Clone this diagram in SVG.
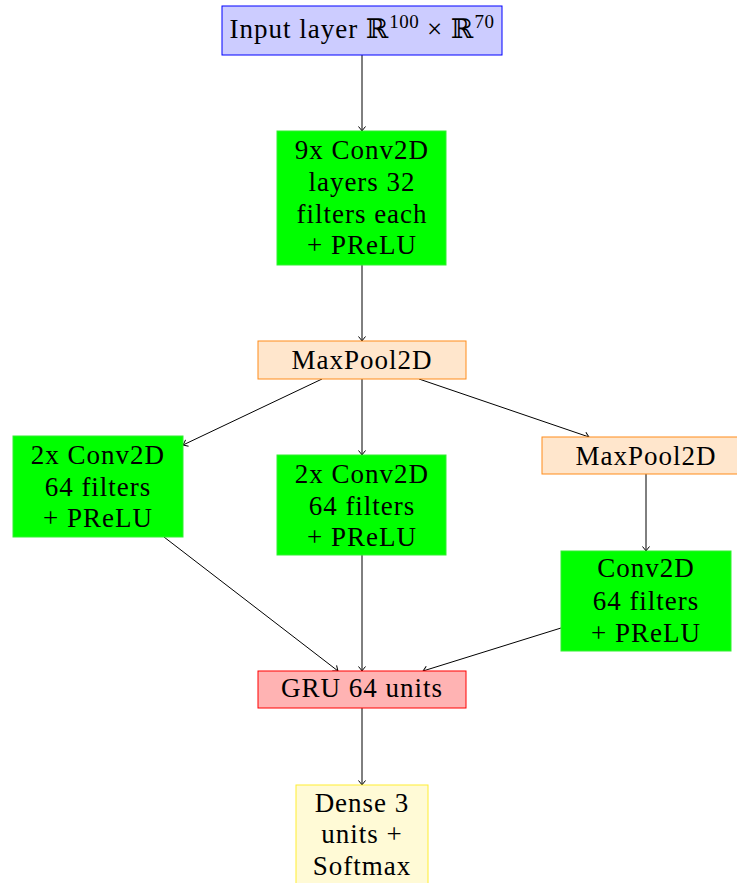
<svg xmlns="http://www.w3.org/2000/svg" width="737" height="883" viewBox="0 0 737 883">
<defs>
<style>
text{font-family:"Liberation Serif","DejaVu Serif",serif;font-size:27px;letter-spacing:1px;fill:#000;text-anchor:middle}
.sup{font-size:19px;letter-spacing:0.5px}
.conv{fill:#00ff00;stroke:#33ee33;stroke-width:1}
.pool{fill:#ffe6cc;stroke:#ff8c1a;stroke-width:1}
.edge{stroke:#000;stroke-width:1;fill:none;marker-end:url(#tip)}
</style>
<marker id="tip" markerWidth="10" markerHeight="10" refX="0" refY="0" viewBox="-6 -5 7 10" orient="auto" markerUnits="userSpaceOnUse">
<path d="M-4.5,-3.5 Q-1.5,-1 0,0 Q-1.5,1 -4.5,3.5" stroke="#000" stroke-width="1" fill="none"/>
</marker>
</defs>
<g id="connectors">
<line class="edge" x1="362" y1="55" x2="362" y2="131"/>
<line class="edge" x1="362" y1="265" x2="362" y2="341"/>
<line class="edge" x1="322" y1="379" x2="183" y2="445"/>
<line class="edge" x1="362" y1="379" x2="362" y2="455"/>
<line class="edge" x1="419" y1="379" x2="589" y2="437"/>
<line class="edge" x1="646" y1="474" x2="646" y2="551"/>
<line class="edge" x1="164" y1="537" x2="338" y2="671"/>
<line class="edge" x1="362" y1="555" x2="362" y2="671"/>
<line class="edge" x1="561" y1="628" x2="423" y2="671"/>
<line class="edge" x1="362" y1="708" x2="362" y2="785"/>
</g>
<g id="input">
<rect x="222" y="6" width="280" height="49" fill="#ccccff" stroke="#0000ff" stroke-width="1"/>
<text x="362" y="38">Input layer ℝ<tspan class="sup" dy="-10">100</tspan><tspan dy="10"> × ℝ</tspan><tspan class="sup" dy="-10">70</tspan></text>
</g>
<g id="conv9">
<rect class="conv" x="277" y="131" width="169" height="134"/>
<text x="362" y="159">9x Conv2D</text>
<text x="362" y="191">layers 32</text>
<text x="362" y="223">filters each</text>
<text x="362" y="254">+ PReLU</text>
</g>
<g id="maxpool1">
<rect class="pool" x="258" y="341" width="208" height="38"/>
<text x="362" y="369">MaxPool2D</text>
</g>
<g id="convLeft">
<rect class="conv" x="13" y="436" width="170" height="101"/>
<text x="98" y="464">2x Conv2D</text>
<text x="98" y="496">64 filters</text>
<text x="98" y="527">+ PReLU</text>
</g>
<g id="convMid">
<rect class="conv" x="277" y="455" width="169" height="100"/>
<text x="362" y="483">2x Conv2D</text>
<text x="362" y="515">64 filters</text>
<text x="362" y="546">+ PReLU</text>
</g>
<g id="maxpool2">
<rect class="pool" x="542" y="437" width="208" height="37"/>
<text x="646" y="465">MaxPool2D</text>
</g>
<g id="convRight">
<rect class="conv" x="561" y="551" width="170" height="100"/>
<text x="646" y="577">Conv2D</text>
<text x="646" y="610">64 filters</text>
<text x="646" y="642">+ PReLU</text>
</g>
<g id="gru">
<rect x="258" y="671" width="208" height="37" fill="#ffb3b3" stroke="#ff0000" stroke-width="1"/>
<text x="362" y="697">GRU 64 units</text>
</g>
<g id="dense">
<rect x="296" y="785" width="132" height="110" fill="#fffad6" stroke="#ffee33" stroke-width="1"/>
<text x="362" y="812">Dense 3</text>
<text x="362" y="843">units +</text>
<text x="362" y="875">Softmax</text>
</g>
</svg>
